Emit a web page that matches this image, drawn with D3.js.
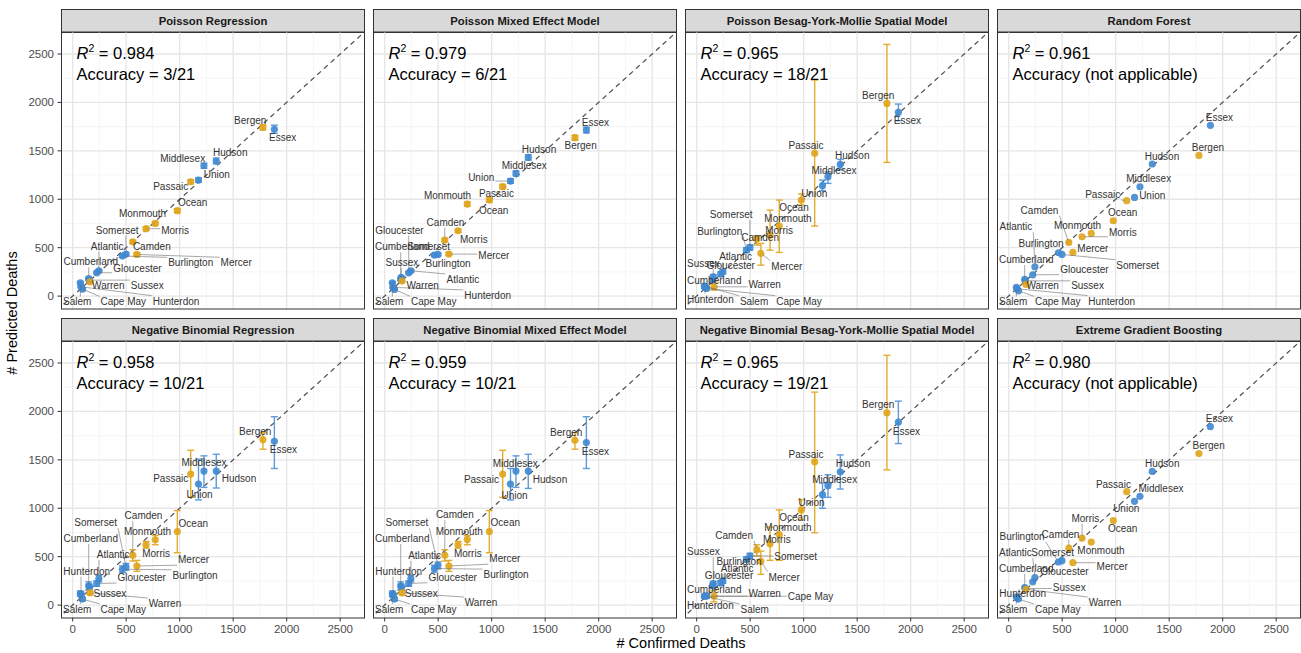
<!DOCTYPE html>
<html>
<head>
<meta charset="utf-8">
<script src="https://cdn.jsdelivr.net/npm/d3@7"></script>
<style>
  body { margin: 0; background: #fff; }
  svg text { font-family: "Liberation Sans", Arial, Helvetica, sans-serif; }
</style>
</head>
<body>
<svg id="chart" width="1301" height="653"></svg>
<script>
// ---- county data (shared x values) ----
const counties = ["Atlantic","Bergen","Burlington","Camden","Cape May","Cumberland","Essex","Gloucester","Hudson","Hunterdon","Mercer","Middlesex","Monmouth","Morris","Ocean","Passaic","Salem","Somerset","Sussex","Union","Warren"];
const confirmedDeaths = [245,1778,465,562,92,150,1885,225,1342,78,600,1227,772,686,978,1103,72,498,155,1176,162];
const countyGroup = ["B","A","B","A","B","B","B","B","B","B","A","B","A","A","A","A","B","B","B","B","A"];

// ---- model titles and annotations ----
const modelNames = ["Poisson Regression","Poisson Mixed Effect Model","Poisson Besag-York-Mollie Spatial Model","Random Forest",
  "Negative Binomial Regression","Negative Binomial Mixed Effect Model","Negative Binomial Besag-York-Mollie Spatial Model","Extreme Gradient Boosting"];
const r2Values = ["0.984","0.979","0.965","0.961","0.958","0.959","0.965","0.980"];
const accuracyText = ["Accuracy = 3/21","Accuracy = 6/21","Accuracy = 18/21","Accuracy (not applicable)",
  "Accuracy = 10/21","Accuracy = 10/21","Accuracy = 19/21","Accuracy (not applicable)"];

// ---- predicted deaths (county order) with interval bounds ----
const predPoisReg = [262,1742,413,561,72,182,1722,241,1395,96,430,1346,751,696,882,1181,138,434,165,1198,148];
const loPoisReg   = [250,1718,400,546,64,172,1680,230,1365,88,416,1320,733,679,862,1160,128,420,155,1175,139];
const hiPoisReg   = [274,1768,427,577,81,193,1765,253,1425,105,445,1372,770,714,903,1203,149,449,176,1222,158];

const predPoisMix = [262,1636,424,579,69,172,1715,241,1432,90,434,1267,950,675,992,1130,138,430,193,1188,155];
const loPoisMix   = [250,1612,410,563,61,162,1685,230,1405,82,420,1242,928,658,970,1108,128,416,182,1165,145];
const hiPoisMix   = [274,1660,438,595,78,183,1745,253,1460,99,449,1292,972,692,1015,1153,149,444,205,1212,166];

const predPoisBym = [251,1990,475,589,79,165,1897,227,1360,90,441,1233,723,630,992,1474,103,503,200,1140,96];
const loPoisBym   = [230,1381,450,527,65,145,1811,205,1308,75,320,1164,451,475,940,723,85,475,180,1088,62];
const hiPoisBym   = [272,2599,500,622,95,185,1983,250,1412,105,544,1284,992,888,1054,2231,120,530,222,1198,148];

const predRf = [303,1453,448,554,55,172,1763,220,1364,76,451,1129,647,613,778,985,90,430,158,1019,121];

const predNbReg = [274,1709,370,514,62,199,1692,223,1384,110,404,1384,675,623,760,1353,120,394,188,1250,127];
const loNbReg   = [240,1610,335,455,45,154,1411,195,1209,85,349,1216,623,589,541,1113,95,360,160,1086,105];
const hiNbReg   = [308,1781,405,572,80,240,1945,250,1558,135,462,1541,719,658,976,1599,145,430,215,1507,150];

const predNbMix = [274,1702,377,514,62,199,1678,223,1384,103,404,1384,678,623,760,1353,120,411,188,1250,127];
const loNbMix   = [240,1610,340,455,45,154,1411,195,1205,80,349,1216,623,589,541,1113,95,375,160,1086,105];
const hiNbMix   = [308,1781,412,572,80,240,1945,250,1558,128,462,1541,719,658,976,1599,145,445,215,1411,150];

const predNbBym = [250,1986,473,572,92,199,1890,229,1377,92,452,1233,729,634,983,1479,92,507,223,1140,92];
const loNbBym   = [225,1397,450,507,75,180,1668,205,1199,75,318,1113,462,462,884,747,75,480,200,1000,34];
const hiNbBym   = [275,2579,500,623,110,220,2106,252,1551,110,558,1346,983,805,1089,2199,110,535,245,1260,154];

const predXgb = [284,1565,445,589,62,182,1842,240,1380,75,438,1123,651,692,873,1171,86,459,171,1072,164];

const axisTicks = [0,500,1000,1500,2000,2500];
const minorTicks = [250,750,1250,1750,2250];

// ---- label placement (pixel nudges from each point, county order) ----
const labelNudge = [
  [[8.3,-24.7],[-12.7,-6.7],[68.3,6.7],[19,5],[40.8,12.7],[2,-16.7],[8.3,8.3],[40.7,-4],[14,-8.3],[95,14.3],[99.3,8.3],[-21.3,-7.3],[-12.7,-10],[29,1.3],[15.3,-8.3],[-20,4.3],[-7,19],[-8.7,-24],[58,5],[18.3,-5.7],[18.3,3.3]],
  [[52,8.7],[5.7,8.3],[13.7,8.3],[0.7,-17.7],[39.2,12.3],[-8.7,-32.7],[9,-7.7],[-9.3,-42.7],[10.7,-8.3],[94.7,8],[45,1.7],[8.3,-7.7],[-19.7,-8.3],[15.7,8.7],[4.3,10],[-6.3,6.7],[-7,19],[-9.3,-7.7],[0.7,-14.7],[-29.3,-3.7],[20.7,4.7]],
  [[12.7,-15],[-8.7,-8.3],[-26.7,-19],[3.3,-1.3],[92.5,12.7],[1.3,0],[9,8.3],[10,-8.3],[12,-9.3],[4,11.7],[26,12.7],[6,-5.7],[8.7,-7.7],[9,-4.3],[-7.3,7.3],[-8.7,-8.3],[49.7,15],[-18.7,-33],[-14.3,-13.3],[-8.3,7.7],[50.7,-2.3]],
  [[-19,-40],[9,-7.7],[-17.3,-9.3],[-29.3,-32.3],[39.2,11],[1.3,-20],[9,-8],[51.7,-5.7],[9.7,-8],[94.7,12.3],[20,-4],[8.7,-8.3],[-13.7,-7.7],[40.7,-4],[9.3,-8.3],[-24,-6.3],[-7,14.3],[75.7,10.7],[62.3,4.3],[17.7,-2.3],[16.7,0.7]],
  [[14.3,-24],[-7.7,-8.3],[72.7,6],[10.7,-40],[40.8,10.3],[2,-47.3],[9,8.3],[45,-6],[22.7,7.3],[5.7,-23.3],[56.7,-6.3],[0,-8.7],[-7.7,-8.7],[10,8.3],[16,-8.3],[-20,4.3],[-7,16],[-30.3,-44.3],[20.7,6.7],[1,10.7],[75,10.7]],
  [[13.7,-23.3],[-8.7,-7.7],[71.7,6],[10,-40.7],[39.2,10.3],[1.3,-47.3],[9,9],[44,-6.3],[21.7,8],[5.7,-24],[56,-7.3],[-0.7,-8],[-8,-8.3],[9.7,9],[16,-8.7],[-21.3,5],[-7,16],[-31,-42.7],[20,6.7],[4,11.7],[79,9.7]],
  [[14.3,-12.3],[-8.7,-8.3],[-7.3,1.7],[-22.7,-14.3],[104,0],[1.3,3.3],[8,9],[8.3,-7],[12.7,-8.7],[4,9],[23.3,15.7],[6.7,-6],[8.7,-7.3],[6.7,-4.3],[-7.3,7.3],[-8.7,-7.7],[50.3,13.3],[45.7,0],[-14.3,-31.7],[-11,7.7],[50.7,-2.7]],
  [[-20.7,-24.7],[9.7,-8.3],[-36.3,-25.7],[-8.3,-13.7],[39.2,10.3],[-3.7,-19],[9,-8],[31.7,-10.7],[10,-8],[5.7,-4.3],[39.3,3.7],[21,-8],[9.7,8.3],[3.3,-20],[9.3,7.7],[-13.3,-7.7],[-7,12.7],[-9.3,-7.7],[44,-1],[-8.3,7.7],[79,13.3]]
];

// ---- assemble panel tables ----
const predSets = [predPoisReg, predPoisMix, predPoisBym, predRf, predNbReg, predNbMix, predNbBym, predXgb];
const loSets   = [loPoisReg, loPoisMix, loPoisBym, null, loNbReg, loNbMix, loNbBym, null];
const hiSets   = [hiPoisReg, hiPoisMix, hiPoisBym, null, hiNbReg, hiNbMix, hiNbBym, null];

const panels = modelNames.map((name, m) => ({
  name, m,
  r2: r2Values[m],
  acc: accuracyText[m],
  rows: counties.map((c, i) => ({
    county: c,
    x: confirmedDeaths[i],
    y: predSets[m][i],
    lo: loSets[m] ? loSets[m][i] : null,
    hi: hiSets[m] ? hiSets[m][i] : null,
    group: countyGroup[i],
    nudge: labelNudge[m][i]
  }))
}));

// ---- layout ----
const colLeft = [61, 373, 685, 997];
const panelW = 304;
const stripTop = [9, 318];
const stripH = 23;
const panelH = 277;
const xDomain = [-109, 2732];
const yDomain = [-133, 2727];

const colors = { A: "#E0A419", B: "#3F88D2" };
const errColors = { A: "#E3AC2F", B: "#5D9BDB" };

const svg = d3.select("#chart");
svg.append("rect").attr("width", 1301).attr("height", 653).attr("fill", "#fff");

const defs = svg.append("defs");

panels.forEach((p, k) => {
  const col = k % 4, row = Math.floor(k / 4);
  const left = colLeft[col];
  const top = stripTop[row] + stripH;
  const x = d3.scaleLinear().domain(xDomain).range([0, panelW]);
  const y = d3.scaleLinear().domain(yDomain).range([panelH, 0]);

  const clipId = "clip" + k;
  defs.append("clipPath").attr("id", clipId)
    .append("rect").attr("width", panelW).attr("height", panelH);

  // strip
  svg.append("rect")
    .attr("x", left + 0.5).attr("y", stripTop[row] + 0.5)
    .attr("width", panelW - 1).attr("height", stripH)
    .attr("fill", "#D9D9D9").attr("stroke", "#333").attr("stroke-width", 1);
  svg.append("text")
    .attr("x", left + panelW / 2).attr("y", stripTop[row] + stripH / 2 + 4)
    .attr("text-anchor", "middle").attr("font-size", 11.3).attr("font-weight", "bold")
    .attr("fill", "#1A1A1A").text(p.name);

  const g = svg.append("g").attr("transform", `translate(${left},${top})`);
  const plot = g.append("g").attr("clip-path", `url(#${clipId})`);

  // grid
  plot.selectAll(".vminor").data(minorTicks).join("line")
    .attr("x1", d => x(d)).attr("x2", d => x(d)).attr("y1", 0).attr("y2", panelH)
    .attr("stroke", "#F2F2F2").attr("stroke-width", 0.8);
  plot.selectAll(".hminor").data(minorTicks).join("line")
    .attr("y1", d => y(d)).attr("y2", d => y(d)).attr("x1", 0).attr("x2", panelW)
    .attr("stroke", "#F2F2F2").attr("stroke-width", 0.8);
  plot.selectAll(".vmajor").data(axisTicks).join("line")
    .attr("x1", d => x(d)).attr("x2", d => x(d)).attr("y1", 0).attr("y2", panelH)
    .attr("stroke", "#E6E6E6").attr("stroke-width", 1.3);
  plot.selectAll(".hmajor").data(axisTicks).join("line")
    .attr("y1", d => y(d)).attr("y2", d => y(d)).attr("x1", 0).attr("x2", panelW)
    .attr("stroke", "#E6E6E6").attr("stroke-width", 1.3);

  // identity line
  const lo = Math.min(xDomain[0], yDomain[0]) - 200, hi = Math.max(xDomain[1], yDomain[1]) + 200;
  plot.append("line")
    .attr("x1", x(lo)).attr("y1", y(lo)).attr("x2", x(hi)).attr("y2", y(hi))
    .attr("stroke", "#4D4D4D").attr("stroke-width", 1.2).attr("stroke-dasharray", "5,4");

  // error bars
  const withErr = p.rows.filter(d => d.lo !== null);
  const eb = plot.selectAll(".eb").data(withErr).join("g")
    .attr("stroke", d => errColors[d.group]).attr("stroke-width", 1.4).attr("fill", "none");
  eb.append("line").attr("x1", d => x(d.x)).attr("x2", d => x(d.x)).attr("y1", d => y(d.lo)).attr("y2", d => y(d.hi));
  eb.append("line").attr("x1", d => x(d.x) - 3.5).attr("x2", d => x(d.x) + 3.5).attr("y1", d => y(d.lo)).attr("y2", d => y(d.lo));
  eb.append("line").attr("x1", d => x(d.x) - 3.5).attr("x2", d => x(d.x) + 3.5).attr("y1", d => y(d.hi)).attr("y2", d => y(d.hi));

  // points
  plot.selectAll(".pt").data(p.rows).join("circle")
    .attr("cx", d => x(d.x)).attr("cy", d => y(d.y)).attr("r", 3.6)
    .attr("fill", d => colors[d.group]).attr("fill-opacity", 0.9);

  // labels with leader segments, kept inside the panel
  const segLayer = plot.append("g");
  const labLayer = plot.append("g");
  p.rows.forEach(d => {
    const px = x(d.x), py = y(d.y);
    const t = labLayer.append("text")
      .attr("text-anchor", "middle").attr("font-size", 10)
      .attr("fill", "#333").text(d.county);
    const hw = t.node().getComputedTextLength() / 2 + 1, hh = 5.5;
    const lx = Math.max(hw + 1, Math.min(px + d.nudge[0], panelW - hw - 1));
    const ly = Math.max(hh + 1, Math.min(py + d.nudge[1], panelH - hh - 1));
    t.attr("x", lx).attr("y", ly + 3.5);
    const cx = Math.max(lx - hw, Math.min(px, lx + hw));
    const cy = Math.max(ly - hh, Math.min(py, ly + hh));
    const dist = Math.hypot(cx - px, cy - py);
    if (dist > 5) {
      const ux = (cx - px) / dist, uy = (cy - py) / dist;
      segLayer.append("line")
        .attr("x1", px + ux * 2.5).attr("y1", py + uy * 2.5)
        .attr("x2", cx).attr("y2", cy)
        .attr("stroke", "#6B6B6B").attr("stroke-width", 0.6);
    }
  });

  // annotation
  const ann = g.append("text").attr("x", 15.5).attr("y", 26.5).attr("font-size", 16.5).attr("fill", "#000");
  ann.append("tspan").attr("font-style", "italic").text("R");
  ann.append("tspan").attr("font-size", 10.5).attr("dy", -6.5).text("2");
  ann.append("tspan").attr("dy", 6.5).text(" = " + p.r2);
  g.append("text").attr("x", 15.5).attr("y", 47.5).attr("font-size", 16.5).attr("fill", "#000").text(p.acc);

  // panel border
  g.append("rect").attr("x", 0.5).attr("y", 0).attr("width", panelW - 1).attr("height", panelH)
    .attr("fill", "none").attr("stroke", "#333").attr("stroke-width", 1);

  // axes on outer panels
  if (col === 0) {
    const ya = g.append("g");
    ya.selectAll("line").data(axisTicks).join("line")
      .attr("x1", -3.5).attr("x2", 0).attr("y1", d => y(d)).attr("y2", d => y(d))
      .attr("stroke", "#333").attr("stroke-width", 1);
    ya.selectAll("text").data(axisTicks).join("text")
      .attr("x", -7).attr("y", d => y(d) + 4).attr("text-anchor", "end")
      .attr("font-size", 11.5).attr("fill", "#4D4D4D").text(d => d);
  }
  if (row === 1) {
    const xa = g.append("g");
    xa.selectAll("line").data(axisTicks).join("line")
      .attr("x1", d => x(d)).attr("x2", d => x(d)).attr("y1", panelH).attr("y2", panelH + 3.5)
      .attr("stroke", "#333").attr("stroke-width", 1);
    xa.selectAll("text").data(axisTicks).join("text")
      .attr("x", d => x(d)).attr("y", panelH + 15).attr("text-anchor", "middle")
      .attr("font-size", 11.5).attr("fill", "#4D4D4D").text(d => d);
  }
});

// axis titles
svg.append("text").attr("x", 681).attr("y", 648).attr("text-anchor", "middle")
  .attr("font-size", 14.5).attr("fill", "#000").text("# Confirmed Deaths");
svg.append("text").attr("transform", "translate(17,313) rotate(-90)").attr("text-anchor", "middle")
  .attr("font-size", 14.5).attr("fill", "#000").text("# Predicted Deaths");
</script>
</body>
</html>
